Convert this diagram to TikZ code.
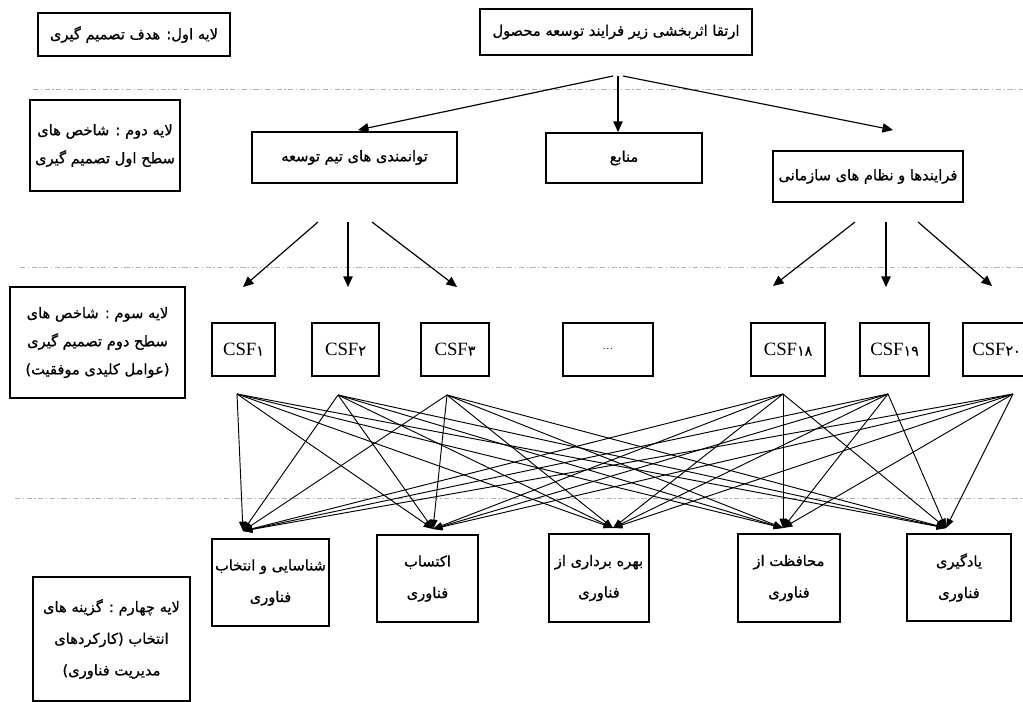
\documentclass[tikz,border=0pt]{standalone}
\usepackage{fontspec}
\setmainfont{Liberation Serif}
\newfontfamily\arabicfont[Script=Arabic,FakeBold=0.8]{DejaVu Sans}
\TeXXeTstate=1
\usetikzlibrary{arrows.meta}
\newcommand{\fa}[1]{{\arabicfont\beginR #1\endR}}
\newcommand{\csfno}[1]{CSF{\arabicfont\fontsize{12}{14}\selectfont #1}}
\begin{document}
\begin{tikzpicture}[x=0.03cm,y=-0.03cm,
    box/.style={draw,line width=1pt,align=center,inner sep=2pt,font=\fontsize{12.5}{24}\selectfont},
    opt/.style={box,font=\fontsize{12.5}{27}\selectfont},
    csf/.style={box,minimum width=#1,minimum height=1.59cm,font=\fontsize{16}{18}\selectfont},
    arr/.style={line width=1pt,-{Triangle[length=9pt,width=8pt]}},
    mesh/.style={line width=0.8pt,-{Triangle[length=8pt,width=6pt]}},
    sep/.style={gray!60,line width=0.8pt,dash pattern=on 4.5pt off 2.2pt on 1pt off 2.2pt}]
  \useasboundingbox (0,0) rectangle (1023,702);
  \draw[sep] (33,89.5) -- (1023,89.5);
  \draw[sep] (20,267) -- (1023,267);
  \draw[sep] (15,498) -- (1023,498);

  \node[box,minimum width=5.76cm,minimum height=1.29cm] (layer1) at (134,34.5) {\fa{لایه اول: هدف تصمیم گیری}};
  \node[box,minimum width=8.16cm,minimum height=1.38cm] (goal) at (616,32) {\fa{ارتقا اثربخشی زیر فرایند توسعه محصول}};
  \node[box,minimum width=4.5cm,minimum height=2.73cm] (layer2) at (105,145.5) {\fa{لایه دوم : شاخص های}\\\fa{سطح اول تصمیم گیری}};
  \node[box,minimum width=6.15cm,minimum height=1.53cm] (team) at (354.5,157.5) {\fa{توانمندی های تیم توسعه}};
  \node[box,minimum width=4.68cm,minimum height=1.5cm] (res) at (624,158) {\fa{منابع}};
  \node[box,minimum width=5.7cm,minimum height=1.53cm] (proc) at (868,176.5) {\fa{فرایندها و نظام های سازمانی}};
  \node[box,minimum width=5.25cm,minimum height=3.33cm] (layer3) at (97.5,342.5) {\fa{لایه سوم : شاخص های}\\\fa{سطح دوم تصمیم گیری}\\\fa{(عوامل کلیدی موفقیت)}};

  \node[csf=1.89cm] (csf1) at (243.5,349.5) {\csfno{۱}};
  \node[csf=2.01cm] (csf2) at (345.5,349.5) {\csfno{۲}};
  \node[csf=2.04cm] (csf3) at (455,349.5) {\csfno{۳}};
  \node[csf=2.7cm,font=\fontsize{9}{11}\selectfont] (dots) at (608,349.5) {\dots};
  \node[csf=2.22cm] (csf18) at (788,349.5) {\csfno{۱۸}};
  \node[csf=2.07cm] (csf19) at (894.5,349.5) {\csfno{۱۹}};
  \node[csf=2.01cm] (csf20) at (996.5,349.5) {\csfno{۲۰}};

  \node[opt,minimum width=3.51cm,minimum height=2.61cm] (ident) at (270.5,582.5) {\fa{شناسایی و انتخاب}\\\fa{فناوری}};
  \node[opt,minimum width=3.03cm,minimum height=2.61cm] (acq) at (427.5,578.5) {\fa{اکتساب}\\\fa{فناوری}};
  \node[opt,minimum width=3cm,minimum height=2.64cm] (expl) at (599,578) {\fa{بهره برداری از}\\\fa{فناوری}};
  \node[opt,minimum width=3.06cm,minimum height=2.64cm] (prot) at (789,578) {\fa{محافظت از}\\\fa{فناوری}};
  \node[opt,minimum width=3.12cm,minimum height=2.61cm] (learn) at (959,577.5) {\fa{یادگیری}\\\fa{فناوری}};
  \node[opt,minimum width=4.71cm,minimum height=3.72cm] (layer4) at (111.5,639) {\fa{لایه چهارم : گزینه های}\\\fa{انتخاب (کارکردهای}\\\fa{مدیریت فناوری)}};

  \foreach \n/\x/\y in {ga/613/76, gb/618/76, gc/623/76, ta/358/130, tb/618/132, tc/893/130,
      ua/318/222, ub/348/222, uc/372/222, va/243/287, vb/348/287, vc/457/287,
      pa/855/222, pb/886/222, pc/918/222, qa/773/286, qb/886/287, qc/992/286}
    \coordinate (\n) at (\x,\y);
  \foreach \a/\b in {ga/ta, gb/tb, gc/tc, ua/va, ub/vb, uc/vc, pa/qa, pb/qb, pc/qc}
    \draw[arr] (\a) -- (\b);

  \foreach \n/\x/\y in {s1/237/394, s2/338/395, s3/447/395, s18/783/394, s19/888/394, s20/1013/394,
      r1/243/531, r2/433/529, r3/613/528, r4/783/528, r5/946/528}
    \coordinate (\n) at (\x,\y);
  \foreach \s in {s1,s2,s3,s18,s19,s20}
    \foreach \t in {r1,r2,r3,r4,r5}
      \draw[mesh] (\s) -- (\t);
\end{tikzpicture}
\end{document}
